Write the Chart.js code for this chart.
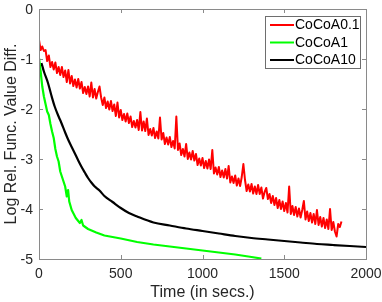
<!DOCTYPE html>
<html>
<head>
<meta charset="utf-8">
<script src="https://cdn.jsdelivr.net/npm/chart.js@4.4.0/dist/chart.umd.min.js"></script>
<style>
  html, body { margin: 0; padding: 0; background: #fff; }
  #wrap { width: 382px; height: 302px; }
</style>
</head>
<body>
<div id="wrap"><canvas id="cocoa"></canvas></div>
<script>
// CoCoA0.1 (noisy), sampled every 10 s
const redTimes = [0,10,20,30,40,50,60,70,80,90,100,110,120,130,140,150,160,170,180,190,
  200,210,220,230,240,250,260,270,280,290,300,310,320,330,340,350,360,370,380,390,
  400,410,420,430,440,450,460,470,480,490,500,510,520,530,540,550,560,570,580,590,
  600,610,620,630,640,650,660,670,680,690,700,710,720,730,740,750,760,770,780,790,
  800,810,820,830,840,850,860,870,880,890,900,910,920,930,940,950,960,970,980,990,
  1000,1010,1020,1030,1040,1050,1060,1070,1080,1090,1100,1110,1120,1130,1140,1150,1160,1170,1180,1190,
  1200,1210,1220,1230,1240,1250,1260,1270,1280,1290,1300,1310,1320,1330,1340,1350,1360,1370,1380,1390,
  1400,1410,1420,1430,1440,1450,1460,1470,1480,1490,1500,1510,1520,1530,1540,1550,1560,1570,1580,1590,
  1600,1610,1620,1630,1640,1650,1660,1670,1680,1690,1700,1710,1720,1730,1740,1750,1760,1770,1780,1790,
  1800,1810,1820,1830,1840,1850];
const redValues = [-0.62,-0.82,-0.75,-0.84,-0.82,-1.04,-0.93,-1.16,-1.06,-1.21,-1.07,-1.28,-1.16,-1.32,-1.16,-1.36,-1.23,-1.46,-1.22,-1.49,
  -1.34,-1.54,-1.41,-1.57,-1.40,-1.59,-1.46,-1.68,-1.56,-1.70,-1.55,-1.75,-1.47,-1.77,-1.60,-1.79,-1.66,-1.55,-1.77,-1.92,
  -1.77,-1.98,-1.85,-2.01,-1.84,-2.04,-1.91,-2.14,-1.87,-2.17,-2.02,-2.22,-2.10,-2.25,-2.09,-2.28,-2.15,-2.36,-2.24,-2.37,
  -2.22,-2.42,-2.06,-2.43,-2.25,-2.44,-2.19,-2.52,-2.40,-2.53,-2.38,-2.58,-2.45,-2.59,-2.17,-2.61,-2.48,-2.70,-2.57,-2.71,
  -2.56,-2.76,-2.64,-2.79,-2.15,-2.82,-2.69,-2.92,-2.80,-2.95,-2.70,-3.00,-2.87,-3.01,-2.84,-3.03,-2.90,-3.12,-2.99,-3.13,
  -2.98,-3.18,-3.04,-3.19,-3.01,-3.20,-2.82,-3.29,-3.17,-3.31,-3.16,-3.36,-3.23,-3.37,-3.20,-3.39,-3.14,-3.47,-3.35,-3.48,
  -3.33,-3.53,-3.39,-3.54,-3.36,-3.10,-3.42,-3.64,-3.51,-3.65,-3.50,-3.69,-3.55,-3.70,-3.52,-3.70,-3.57,-3.79,-3.66,-3.58,
  -3.80,-3.70,-3.88,-3.74,-3.92,-3.78,-3.98,-3.82,-4.00,-3.85,-4.04,-3.88,-4.07,-3.55,-4.10,-3.94,-4.12,-3.96,-4.15,-3.99,
  -4.17,-4.02,-3.84,-4.21,-4.05,-4.24,-4.08,-4.27,-4.10,-4.30,-4.02,-4.32,-4.16,-4.35,-4.18,-4.38,-4.21,-4.40,-4.00,-4.42,
  -4.26,-4.45,-4.55,-4.30,-4.36,-4.25];

// CoCoA1
const greenTimes = [0,10,20,30,40,50,60,70,80,90,100,110,120,130,140,150,160,170,178,185,
  200,225,250,260,270,300,350,400,500,600,700,800,900,1000,1100,1200,1300,1360];
const greenValues = [-0.98,-1.25,-1.55,-1.75,-1.90,-2.05,-2.12,-2.30,-2.45,-2.58,-2.80,-2.95,-3.05,-3.25,-3.35,-3.45,-3.55,-3.75,-3.62,-3.85,
  -4.02,-4.18,-4.28,-4.22,-4.33,-4.40,-4.47,-4.53,-4.59,-4.66,-4.71,-4.75,-4.79,-4.83,-4.87,-4.91,-4.96,-4.99];

// CoCoA10
const blackTimes = [15,30,55,75,96,120,137,160,178,200,218,240,259,280,300,320,341,370,400,450,
  500,550,600,700,800,900,1000,1100,1200,1300,1400,1500,1600,1700,1800,1900,2000];
const blackValues = [-1.08,-1.25,-1.48,-1.72,-1.95,-2.15,-2.28,-2.47,-2.61,-2.76,-2.88,-3.03,-3.15,-3.27,-3.38,-3.47,-3.55,-3.63,-3.74,-3.86,
  -3.98,-4.08,-4.15,-4.27,-4.33,-4.39,-4.44,-4.49,-4.54,-4.58,-4.61,-4.64,-4.67,-4.70,-4.72,-4.74,-4.76];

const seriesNames = ['CoCoA0.1', 'CoCoA1', 'CoCoA10'];
const seriesColors = ['#ff0000', '#00ff00', '#000000'];

const xTicks = [0, 500, 1000, 1500, 2000];
const yTicks = [0, -1, -2, -3, -4, -5];

function pts(ts, vs) {
  return ts.map((t, i) => ({ x: t, y: vs[i] }));
}

const axisColor = '#8a8a8a';
const textColor = '#262626';
const fontFamily = '"Liberation Sans", Arial, Helvetica, sans-serif';

// MATLAB-like box: frame, inward tick marks on all sides, tick labels
const boxPlugin = {
  id: 'box',
  afterDatasetsDraw(chart) {
    const ctx = chart.ctx;
    const a = chart.chartArea;
    const xs = chart.scales.x, ys = chart.scales.y;
    const len = 4;
    ctx.save();
    ctx.strokeStyle = axisColor;
    ctx.lineWidth = 1;
    ctx.beginPath();
    xTicks.forEach(v => {
      const px = Math.round(xs.getPixelForValue(v)) + 0.5;
      ctx.moveTo(px, a.bottom); ctx.lineTo(px, a.bottom - len);
      ctx.moveTo(px, a.top); ctx.lineTo(px, a.top + len);
    });
    yTicks.forEach(v => {
      const py = Math.round(ys.getPixelForValue(v)) + 0.5;
      ctx.moveTo(a.left, py); ctx.lineTo(a.left + len, py);
      ctx.moveTo(a.right, py); ctx.lineTo(a.right - len, py);
    });
    ctx.stroke();
    ctx.strokeRect(Math.round(a.left) + 0.5, Math.round(a.top) + 0.5,
      Math.round(a.right - a.left), Math.round(a.bottom - a.top));

    ctx.fillStyle = textColor;
    ctx.font = '14px ' + fontFamily;
    ctx.textBaseline = 'alphabetic';
    ctx.textAlign = 'center';
    xTicks.forEach(v => {
      ctx.fillText(String(v), xs.getPixelForValue(v), a.bottom + 19);
    });
    ctx.textAlign = 'right';
    yTicks.forEach(v => {
      ctx.fillText(String(v), a.left - 6, ys.getPixelForValue(v) + 5);
    });
    ctx.restore();
  },
  afterDraw(chart) {
    // legend in the upper right corner
    const ctx = chart.ctx;
    const x0 = 265, y0 = 16, w = 95, h = 52;
    ctx.save();
    ctx.fillStyle = '#fff';
    ctx.fillRect(x0, y0, w, h);
    ctx.strokeStyle = '#6e6e6e';
    ctx.lineWidth = 1;
    ctx.strokeRect(x0 + 0.5, y0 + 0.5, w, h);
    ctx.font = '14px ' + fontFamily;
    ctx.textBaseline = 'middle';
    chart.data.datasets.forEach((ds, i) => {
      const y = y0 + 9 + i * 17.5;
      ctx.strokeStyle = ds.borderColor;
      ctx.lineWidth = 2;
      ctx.beginPath();
      ctx.moveTo(x0 + 5, y); ctx.lineTo(x0 + 29, y);
      ctx.stroke();
      ctx.fillStyle = '#000';
      ctx.fillText(ds.label, x0 + 30, y + 0.5);
    });
    ctx.restore();
  }
};

new Chart(document.getElementById('cocoa').getContext('2d'), {
  type: 'line',
  data: {
    datasets: [
      { label: seriesNames[0], data: pts(redTimes, redValues), borderColor: seriesColors[0], borderWidth: 2 },
      { label: seriesNames[1], data: pts(greenTimes, greenValues), borderColor: seriesColors[1], borderWidth: 2.2 },
      { label: seriesNames[2], data: pts(blackTimes, blackValues), borderColor: seriesColors[2], borderWidth: 2.2, cubicInterpolationMode: 'monotone' }
    ]
  },
  options: {
    responsive: true,
    maintainAspectRatio: false,
    animation: false,
    elements: {
      point: { radius: 0 },
      line: { tension: 0, borderJoinStyle: 'round' }
    },
    layout: { padding: { top: 9, right: 16, left: 0, bottom: 0 } },
    scales: {
      x: {
        type: 'linear',
        min: 0, max: 2000,
        afterFit(scale) { scale.height = 43; },
        afterBuildTicks(scale) { scale.ticks = xTicks.map(v => ({ value: v })); },
        grid: { display: false },
        border: { display: false },
        ticks: { display: false },
        title: { display: true, text: 'Time (in secs.)', color: textColor, padding: { top: 0, bottom: 0 }, font: { size: 16, family: fontFamily } }
      },
      y: {
        type: 'linear',
        min: -5, max: 0,
        afterFit(scale) { scale.width = 39; },
        afterBuildTicks(scale) { scale.ticks = yTicks.map(v => ({ value: v })); },
        grid: { display: false },
        border: { display: false },
        ticks: { display: false },
        title: { display: true, text: 'Log Rel. Func. Value Diff.', color: textColor, padding: { top: 2, bottom: 0 }, font: { size: 16, family: fontFamily } }
      }
    },
    plugins: {
      legend: { display: false },
      tooltip: { enabled: false }
    }
  },
  plugins: [boxPlugin]
});
</script>
</body>
</html>
